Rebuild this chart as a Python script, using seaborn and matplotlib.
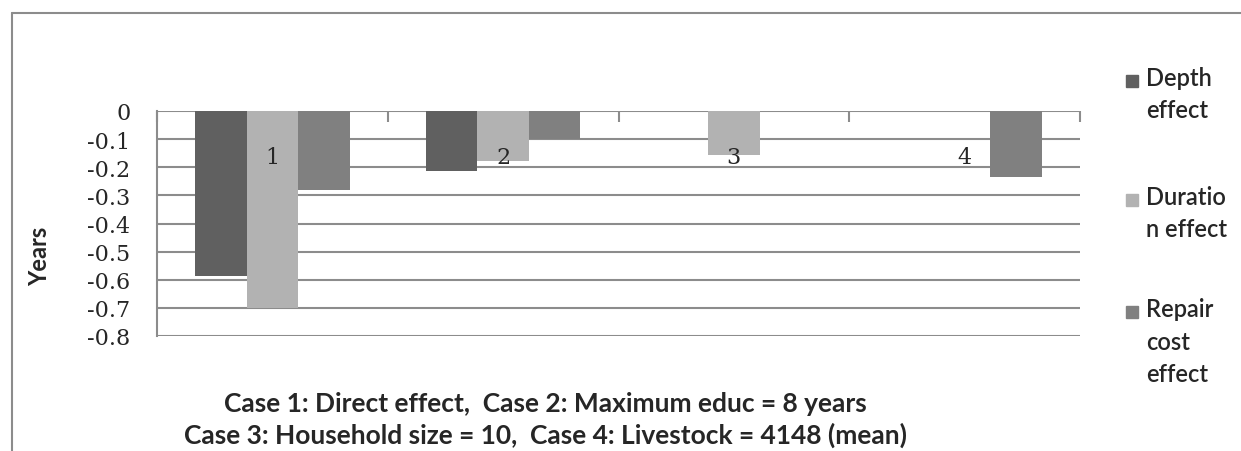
import numpy as np
import pandas as pd
import seaborn as sns
import matplotlib.pyplot as plt
from matplotlib.patches import Rectangle
from matplotlib.lines import Line2D

# data (years)
cases = ['1', '2', '3', '4']
depth = [-0.585, -0.215, np.nan, np.nan]
duration = [-0.70, -0.178, -0.155, np.nan]
repair = [-0.28, -0.098, np.nan, -0.233]
series = ['Depth effect', 'Duration effect', 'Repair cost effect']
legend_labels = ['Depth\neffect', 'Duratio\nn effect', 'Repair\ncost\neffect']
colors = ['#606060', '#b2b2b2', '#808080']
yticks = [0, -0.1, -0.2, -0.3, -0.4, -0.5, -0.6, -0.7, -0.8]
footnote = ('Case 1: Direct effect,  Case 2: Maximum educ = 8 years\n'
            'Case 3: Household size = 10,  Case 4: Livestock = 4148 (mean)')

df = pd.DataFrame({'case': cases * 3,
                   'effect': np.repeat(series, len(cases)),
                   'years': depth + duration + repair})

sns.set_style('white')
plt.rcParams['axes.unicode_minus'] = False
plt.rcParams['font.family'] = ['Lato', 'DejaVu Sans']

fig = plt.figure(figsize=(12.41, 4.52), dpi=100)
ax = fig.add_axes([157 / 1241, 1 - 337 / 452, (1080 - 157) / 1241, 225 / 452])

sns.barplot(data=df, x='case', y='years', hue='effect', order=cases,
            hue_order=series, palette=colors, width=0.67, errorbar=None,
            saturation=1, linewidth=0, legend=False, ax=ax)

grid_c = '#8c8c8c'
ax.set_ylim(-0.8, 0)
ax.set_xlim(-0.5, len(cases) - 0.5)
ax.set_yticks(yticks)
ax.set_yticklabels(['0' if v == 0 else f'{v:.1f}' for v in yticks],
                   family='DejaVu Serif', fontsize=16)
for v in yticks:
    ax.axhline(v, color=grid_c, lw=1.5, zorder=0)
ax.set_axisbelow(True)

for s in ['top', 'right', 'bottom']:
    ax.spines[s].set_visible(False)
ax.spines['left'].set_color(grid_c)
ax.spines['left'].set_linewidth(1.5)
ax.tick_params(axis='y', direction='out', length=7, color=grid_c, width=1.5, pad=12)

# category boundaries marked by small ticks hanging from the zero line
ax.xaxis.set_ticks_position('top')
ax.set_xticks(np.arange(-0.5, len(cases), 1.0))
ax.set_xticklabels([])
ax.tick_params(axis='x', direction='in', length=8, color=grid_c, width=1.5)
ax.set_xlabel('')
ax.set_ylabel('Years', fontsize=17, fontweight='bold')
ax.yaxis.set_label_coords(-0.115, 0.36)

# category numbers drawn inside the plot
for i, c in enumerate(cases):
    ax.text(i, -0.165, c, ha='center', va='center', family='DejaVu Serif',
            fontsize=16)

# legend, Excel style: marker aligned with the first line of text
leg_y = [82, 201, 313]
for lab, col, y in zip(legend_labels, colors, leg_y):
    fig.patches.append(Rectangle((1126 / 1241, 1 - (y + 6) / 452), 12 / 1241, 12 / 452,
                                 transform=fig.transFigure, color=col))
    fig.text(1146 / 1241, 1 - (y - 15) / 452, lab, ha='left', va='top',
             fontsize=17, fontweight='semibold', linespacing=1.5)

fig.text(545 / 1241, 1 - 420 / 452, footnote, ha='center', va='center',
         fontsize=19, fontweight='bold', linespacing=1.27)

# outer chart frame (left and top edges visible in the crop)
fig.add_artist(Line2D([12 / 1241, 12 / 1241], [0, 1 - 14 / 452],
                      transform=fig.transFigure, color='#8c8c8c', lw=1.5))
fig.add_artist(Line2D([12 / 1241, 1], [1 - 14 / 452, 1 - 14 / 452],
                      transform=fig.transFigure, color='#8c8c8c', lw=1.5))

plt.savefig('out.png', dpi=100)
